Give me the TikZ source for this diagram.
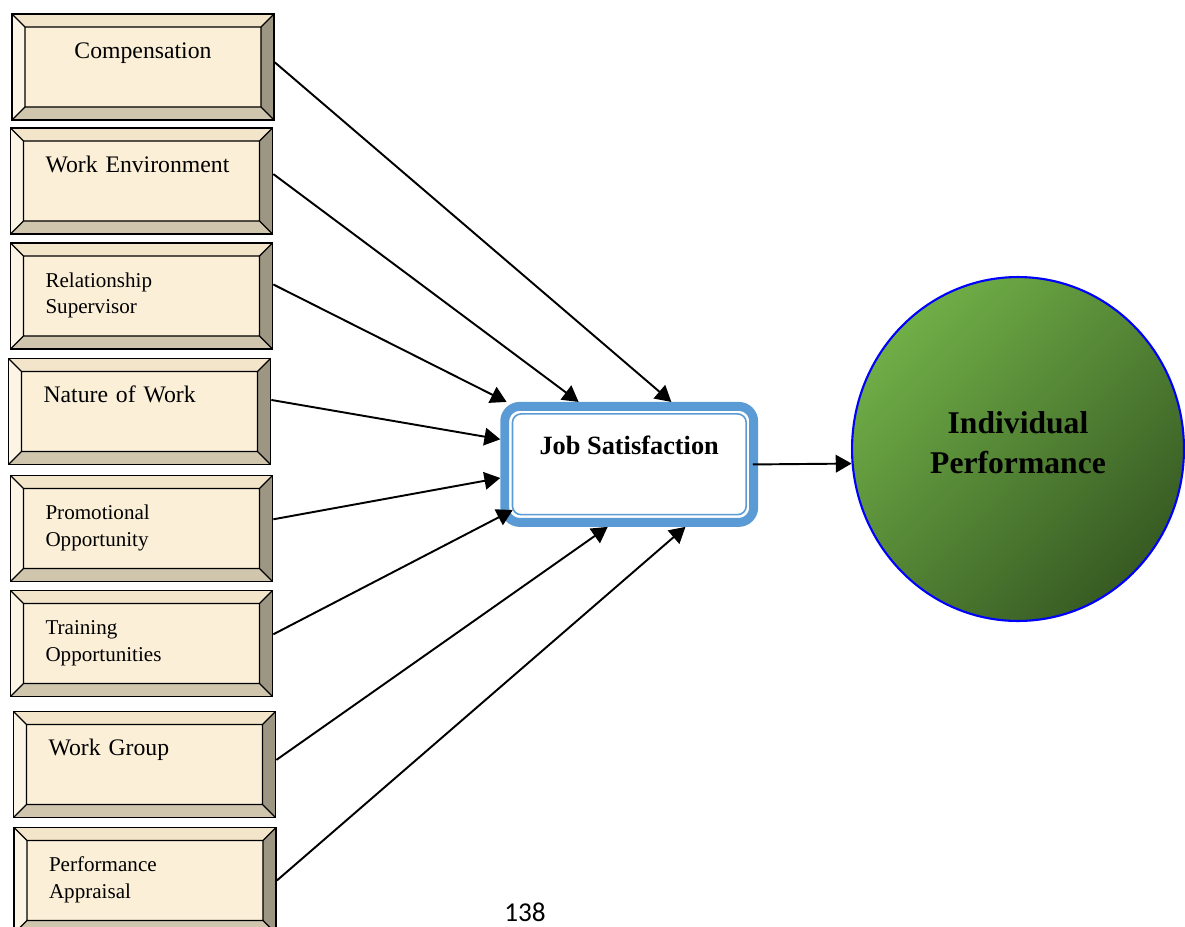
\documentclass[tikz,border=0pt]{standalone}
\usepackage{fontspec}
\setmainfont{Liberation Serif}
\newfontfamily\pagenumfont{Carlito}
\usetikzlibrary{shapes,arrows.meta}
\definecolor{facecol}{HTML}{FBEFD8}
\definecolor{bevtop}{HTML}{F3E5C9}
\definecolor{bevleft}{HTML}{FCF4E4}
\definecolor{bevright}{HTML}{9D9682}
\definecolor{bevbottom}{HTML}{CFC6AD}
\definecolor{jsblue}{HTML}{5B9BD5}
\definecolor{greenlight}{HTML}{70AE47}
\definecolor{greendark}{HTML}{375B23}
\newcommand\bevw{0.26cm}

\begin{document}
\begin{tikzpicture}[x=0.02cm,y=-0.02cm,
  bevel/.style={draw,line width=1pt,fill=facecol,minimum width=5.24cm,minimum height=2.12cm,
    text width=3.84cm,align=left,text height=10pt,text depth=20pt,inner sep=0pt,
    path picture={
      \path (path picture bounding box.north west) coordinate (bnw)
        (path picture bounding box.north east) coordinate (bne)
        (path picture bounding box.south west) coordinate (bsw)
        (path picture bounding box.south east) coordinate (bse)
        ([shift={(\bevw,-\bevw)}]bnw) coordinate (inw)
        ([shift={(-\bevw,-\bevw)}]bne) coordinate (ine)
        ([shift={(\bevw,\bevw)}]bsw) coordinate (isw)
        ([shift={(-\bevw,\bevw)}]bse) coordinate (ise);
      \fill[bevtop] (bnw) -- (bne) -- (ine) -- (inw) -- cycle;
      \fill[bevleft] (bnw) -- (inw) -- (isw) -- (bsw) -- cycle;
      \fill[bevright] (bne) -- (bse) -- (ise) -- (ine) -- cycle;
      \fill[bevbottom] (bsw) -- (isw) -- (ise) -- (bse) -- cycle;
      \draw[line width=0.7pt] (inw) rectangle (ise)
        (bnw) -- (inw) (bne) -- (ine) (bsw) -- (isw) (bse) -- (ise);
    }},
  big/.style={font=\fontsize{13.5}{16}\selectfont},
  small/.style={font=\fontsize{12}{15}\selectfont},
  arr/.style={-{Triangle[length=9pt,width=10pt]},line width=1.1pt}]
\clip (0,0) rectangle (1185,926);
% input factors
\node[bevel,big,align=center,name=n00] at (143,67) {Compensation};
\node[bevel,big,name=n01] at (141.5,181) {Work Environment};
\node[bevel,small,name=n02] at (141.5,296) {Relationship\\Supervisor};
\node[bevel,big,name=n03] at (139.5,411.5) {Nature of Work};
\node[bevel,small,name=n04] at (141.5,528.5) {Promotional\\Opportunity};
\node[bevel,small,name=n05] at (141.5,643.5) {Training\\Opportunities};
\node[bevel,big,name=n06] at (144.5,764.5) {Work Group};
\node[bevel,small,name=n07] at (145,880.5) {Performance\\Appraisal};
% mediator
\node[draw=jsblue,line width=5.1pt,rounded corners=0.3cm,fill=white,minimum width=4.98cm,minimum height=2.32cm,
  font=\bfseries\fontsize{15}{18}\selectfont,text height=10pt,text depth=20.8pt,name=n10] at (629.2,464.4) {Job Satisfaction};
\draw[jsblue,line width=0.9pt,rounded corners=0.17cm] ([shift={(0.245cm,-0.24cm)}]n10.north west) rectangle ([shift={(-0.24cm,0.245cm)}]n10.south east);
% outcome
\node[ellipse,draw=blue,line width=1.2pt,minimum width=6.64cm,minimum height=6.88cm,
  top color=greenlight,bottom color=greendark,shading angle=45,
  font=\bfseries\fontsize{18}{22.7}\selectfont,text width=3.8cm,align=center,text height=12pt,text depth=30pt,name=n20] at (1018,449) {Individual\\Performance};
\draw[arr,name=a0010] (n00.2) -- (n10.56);
\draw[arr,name=a0110] (n01.3.5) -- (n10.129);
\draw[arr,name=a0210] (n02.5.2) -- (n10.153);
\draw[arr,name=a0310] (n03.5) -- (n10.169);
\draw[arr,name=a0410] (n04.4) -- (n10.186);
\draw[arr,shorten >=-8pt,name=a0510] (n05.4.6) -- (n10.202);
\draw[arr,name=a0610] (n06.2) -- (n10.251);
\draw[arr,name=a0710] (n07.-0.7) -- (n10.312);
\draw[arr,shorten <=-3pt,name=a1020] (n10.east) -- (n20.185);
% page number
\node[font=\pagenumfont\fontsize{15.5}{18}\selectfont,anchor=base,name=pg] at (525,921) {138};
\end{tikzpicture}
\end{document}
